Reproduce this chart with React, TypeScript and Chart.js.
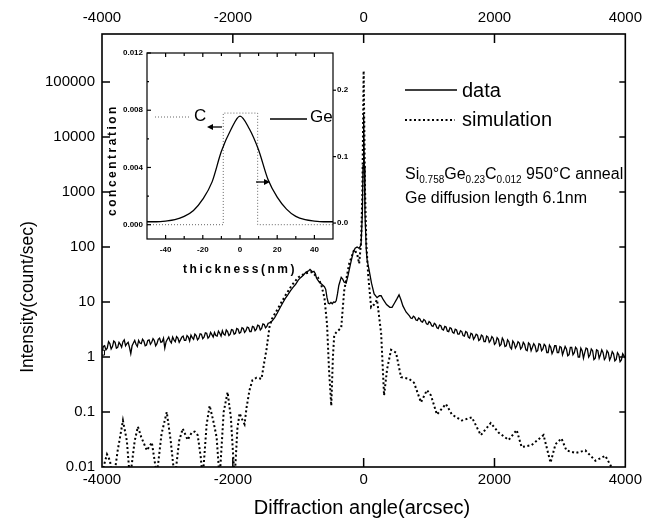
import React, { useEffect, useRef } from "react";
import { Chart, registerables } from "chart.js";
Chart.register(...registerables);

const FONT = "'Liberation Sans', Arial, Helvetica, sans-serif";

// ---------- main chart axes ----------
const xTickValues = [-4000, -2000, 0, 2000, 4000];
const xTickLabels = ["-4000", "-2000", "0", "2000", "4000"];
const yTickValues = [0.01, 0.1, 1, 10, 100, 1000, 10000, 100000];
const yTickLabels = ["0.01", "0.1", "1", "10", "100", "1000", "10000", "100000"];
const Y_MIN = 0.01;
const Y_MAX = 746000;

// ---------- measured data (solid): [angle, intensity] ----------
const dataLeft: [number, number][] = [
  [-4000, 1.2], [-3980, 1.55], [-3960, 1.6], [-3940, 1.35], [-3920, 1.45], [-3900, 1.9], [-3880, 1.75], [-3860, 1.4],
  [-3840, 1.55], [-3820, 1.95], [-3800, 1.85], [-3780, 1.45], [-3760, 1.5], [-3740, 1.85], [-3720, 1.7], [-3700, 1.5],
  [-3680, 1.9], [-3660, 2.05], [-3640, 1.6], [-3620, 1.75], [-3600, 1.85], [-3580, 1.5], [-3560, 1.15], [-3540, 1.6],
  [-3520, 1.8], [-3500, 2.0], [-3480, 1.7], [-3460, 1.55], [-3440, 2.0], [-3420, 1.8], [-3400, 1.75], [-3380, 2.1],
  [-3360, 1.95], [-3340, 1.6], [-3320, 1.65], [-3300, 2.0], [-3280, 2.05], [-3260, 1.7], [-3240, 1.85], [-3220, 2.15],
  [-3200, 2.0], [-3180, 1.6], [-3160, 1.75], [-3140, 2.1], [-3120, 2.2], [-3100, 1.85], [-3080, 1.9], [-3060, 2.2],
  [-3040, 1.45], [-3020, 1.9], [-3000, 2.1], [-2980, 2.3], [-2960, 1.95], [-2940, 1.8], [-2920, 2.3], [-2900, 2.05],
  [-2880, 1.9], [-2860, 2.35], [-2840, 2.2], [-2820, 1.85], [-2800, 2.05], [-2780, 2.3], [-2760, 2.4], [-2740, 2.0],
  [-2720, 2.0], [-2700, 2.45], [-2680, 2.3], [-2660, 1.95], [-2640, 2.5], [-2620, 2.25], [-2600, 2.1], [-2580, 2.6],
  [-2560, 2.45], [-2540, 2.05], [-2520, 2.2], [-2500, 2.65], [-2480, 2.6], [-2460, 2.15], [-2440, 2.3], [-2420, 2.75],
  [-2400, 2.7], [-2380, 2.2], [-2360, 2.35], [-2340, 2.8], [-2320, 2.55], [-2300, 2.3], [-2280, 2.8], [-2260, 2.45],
  [-2240, 2.4], [-2220, 2.95], [-2200, 2.7], [-2180, 2.4], [-2160, 3.0], [-2140, 2.6], [-2120, 2.5], [-2100, 3.1],
  [-2080, 2.9], [-2060, 2.45], [-2040, 2.6], [-2020, 3.15], [-2000, 3.1], [-1980, 2.6], [-1960, 2.7], [-1940, 3.3],
  [-1920, 3.2], [-1900, 2.7], [-1880, 2.8], [-1860, 3.4], [-1840, 3.3], [-1820, 2.8], [-1800, 3.0], [-1780, 3.5],
  [-1760, 3.4], [-1740, 2.9], [-1720, 2.9], [-1700, 3.6], [-1680, 3.5], [-1660, 3.0], [-1640, 3.2], [-1620, 3.8],
  [-1600, 3.7], [-1580, 3.1], [-1560, 3.3], [-1540, 4.0], [-1520, 3.9], [-1500, 3.4], [-1480, 3.6], [-1460, 4.1],
  [-1440, 4.2],
];
const dataCore: [number, number][] = [
  [-1400, 4.5], [-1360, 5.2], [-1320, 6.3], [-1280, 7.8], [-1240, 9.5], [-1200, 11.5], [-1160, 13.5], [-1120, 16],
  [-1080, 18.5], [-1040, 21], [-1000, 25], [-960, 28], [-920, 31], [-880, 35], [-840, 37], [-820, 39],
  [-800, 37], [-780, 35], [-760, 36], [-740, 33], [-720, 27], [-700, 25], [-680, 23], [-660, 22],
  [-640, 21], [-620, 20], [-600, 19], [-580, 17], [-560, 12], [-540, 9.5], [-520, 9.3], [-500, 9.8],
  [-480, 9.3], [-460, 10], [-440, 9.8], [-420, 10.5], [-400, 14], [-380, 20], [-343, 28], [-320, 26],
  [-300, 23], [-267, 22], [-240, 30], [-200, 50], [-160, 80], [-130, 95], [-100, 100], [-70, 95],
  [-40, 110], [-20, 400], [-10, 3000], [0, 25000], [10, 3000], [20, 400], [40, 90], [53, 58],
  [80, 40], [120, 22], [160, 14], [205, 12], [240, 13], [267, 13], [300, 11], [350, 9],
  [400, 8], [434, 8], [470, 9.5], [510, 11.5], [541, 13.5], [570, 11], [600, 8.5], [648, 6.6],
];
const dataRight: [number, number][] = [
  [700, 5.6], [720, 5.1], [740, 5.0], [760, 5.5], [780, 5.3], [800, 4.7], [820, 4.6], [840, 5.1],
  [860, 4.9], [880, 4.4], [900, 4.3], [920, 4.8], [940, 4.6], [960, 4.0], [980, 3.9], [1000, 4.4],
  [1020, 4.2], [1040, 3.7], [1060, 3.6], [1080, 4.1], [1100, 3.9], [1120, 3.4], [1140, 3.3], [1160, 3.8],
  [1180, 3.7], [1200, 3.2], [1220, 3.1], [1240, 3.6], [1260, 3.5], [1280, 2.95], [1300, 2.9], [1320, 3.4],
  [1340, 3.3], [1360, 2.8], [1380, 2.7], [1400, 3.2], [1420, 3.1], [1440, 2.6], [1460, 2.6], [1480, 3.0],
  [1500, 2.9], [1520, 2.45], [1540, 2.4], [1560, 2.9], [1580, 2.8], [1600, 2.3], [1620, 2.2], [1640, 2.7],
  [1660, 2.6], [1680, 2.1], [1700, 2.3], [1720, 2.6], [1740, 2.5], [1760, 2.0], [1780, 2.1], [1800, 2.5],
  [1820, 2.4], [1840, 1.9], [1860, 1.9], [1880, 2.4], [1900, 2.3], [1920, 1.85], [1940, 2.0], [1960, 2.35],
  [1980, 2.2], [2000, 1.7], [2020, 1.8], [2040, 2.25], [2060, 2.1], [2080, 1.6], [2100, 1.7], [2120, 2.2],
  [2140, 2.0], [2160, 1.55], [2180, 1.6], [2200, 2.05], [2220, 1.9], [2240, 1.5], [2260, 1.4], [2280, 1.95],
  [2300, 1.8], [2320, 1.45], [2340, 1.6], [2360, 1.9], [2380, 1.8], [2400, 1.4], [2420, 1.5], [2440, 1.85],
  [2460, 1.7], [2480, 1.35], [2500, 1.3], [2520, 1.8], [2540, 1.7], [2560, 1.3], [2580, 1.5], [2600, 1.75],
  [2620, 1.6], [2640, 1.25], [2660, 1.3], [2680, 1.75], [2700, 1.7], [2720, 1.3], [2740, 1.4], [2760, 1.7],
  [2780, 1.6], [2800, 1.2], [2820, 1.2], [2840, 1.65], [2860, 1.5], [2880, 1.15], [2900, 1.3], [2920, 1.6],
  [2940, 1.6], [2960, 1.2], [2980, 1.2], [3000, 1.55], [3020, 1.5], [3040, 1.1], [3060, 1.3], [3080, 1.55],
  [3100, 1.4], [3120, 1.05], [3140, 1.1], [3160, 1.5], [3180, 1.5], [3200, 1.1], [3220, 1.2], [3240, 1.5],
  [3260, 1.4], [3280, 1.0], [3300, 1.0], [3320, 1.45], [3340, 1.3], [3360, 0.95], [3380, 1.2], [3400, 1.45],
  [3420, 1.4], [3440, 1.0], [3460, 1.1], [3480, 1.4], [3500, 1.3], [3520, 0.9], [3540, 0.95], [3560, 1.35],
  [3580, 1.3], [3600, 0.95], [3620, 1.1], [3640, 1.35], [3660, 1.2], [3680, 0.9], [3700, 0.98], [3720, 1.3],
  [3740, 1.2], [3760, 0.88], [3780, 1.0], [3800, 1.25], [3820, 1.15], [3840, 0.85], [3860, 0.9], [3880, 1.2],
  [3900, 1.1], [3920, 0.82], [3940, 0.88], [3960, 1.15], [3980, 1.05], [4000, 0.95],
];

// ---------- simulation (dotted) ----------
const simX = [
  -4000, -3924, -3878, -3830, -3760, -3680, -3620, -3573, -3500, -3451,
  -3400, -3314, -3238, -3162, -3090, -3010, -2950, -2888, -2820, -2766,
  -2690, -2630, -2583, -2537, -2490, -2461, -2400, -2354, -2300, -2248,
  -2202, -2140, -2080, -2030, -1973, -1930, -1897, -1850, -1821, -1790,
  -1745, -1700, -1638, -1562, -1520, -1486, -1440, -1400, -1300, -1200,
  -1100, -1000, -900, -800, -700, -650, -600, -560, -530, -495,
  -470, -450, -419, -343, -298, -221, -145, -100, -69, -40,
  -20, 0, 20, 40, 70, 114, 160, 205, 267, 312,
  358, 419, 495, 571, 693, 770, 876, 968, 1029, 1120,
  1257, 1349, 1501, 1654, 1791, 1943, 2065, 2217, 2339, 2415,
  2567, 2750, 2857, 2933, 3024, 3100, 3238, 3390, 3543, 3695,
  3787, 3850,
];
const simY = [
  0.008, 0.017, 0.013, 0.005, 0.02, 0.07, 0.03, 0.006, 0.03, 0.054,
  0.035, 0.02, 0.028, 0.007, 0.04, 0.1, 0.03, 0.006, 0.03, 0.05,
  0.031, 0.042, 0.044, 0.038, 0.015, 0.006, 0.06, 0.13, 0.07, 0.035,
  0.006, 0.1, 0.23, 0.08, 0.006, 0.05, 0.095, 0.07, 0.06, 0.12,
  0.25, 0.38, 0.42, 0.4, 0.8, 1.35, 3.5, 5, 8, 13,
  20, 28, 33, 35, 28, 21, 12, 4, 0.6, 0.13,
  1.0, 2.5, 2.8, 3.4, 16, 50, 90, 75, 50, 120,
  900, 160000, 1200, 120, 30, 8, 9, 11, 2.7, 0.2,
  0.6, 1.35, 1.2, 0.43, 0.4, 0.34, 0.15, 0.25, 0.2, 0.09,
  0.14, 0.09, 0.07, 0.08, 0.038, 0.063, 0.042, 0.031, 0.047, 0.023,
  0.025, 0.038, 0.012, 0.026, 0.033, 0.02, 0.018, 0.02, 0.013, 0.016,
  0.01, 0.008,
];

// ---------- inset ----------
const thickX = [-50, -45, -40, -35, -30, -25, -20, -15, -10, -5, 0, 5, 10, 15, 20, 25, 30, 35, 40, 45, 50];
const geConc = [0.002, 0.002, 0.003, 0.005, 0.010, 0.019, 0.036, 0.062, 0.108, 0.140, 0.161, 0.142, 0.110, 0.066, 0.039, 0.021, 0.010, 0.005, 0.003, 0.002, 0.002];
const cX = [-50, -9, -9, 9.5, 9.5, 50];
const cConc = [0, 0, 0.0078, 0.0078, 0, 0];
const insetXTicks = [-40, -20, 0, 20, 40];
const insetXLabels = ["-40", "-20", "0", "20", "40"];
const insetXMinor = [-40, -30, -20, -10, 0, 10, 20, 30, 40];
const insetLeftTicks = [0, 0.004, 0.008, 0.012];
const insetLeftLabels = ["0.000", "0.004", "0.008", "0.012"];
const insetLeftMinor = [0, 0.002, 0.004, 0.006, 0.008, 0.01, 0.012];
const insetRightTicks = [0, 0.1, 0.2];
const insetRightLabels = ["0.0", "0.1", "0.2"];

const INSET_LEFT = 88;
const INSET_TOP = 44;

function seg(ctx: CanvasRenderingContext2D, x1: number, y1: number, x2: number, y2: number) {
  ctx.beginPath();
  ctx.moveTo(x1, y1);
  ctx.lineTo(x2, y2);
  ctx.stroke();
}
function arrow(ctx: CanvasRenderingContext2D, x1: number, y: number, x2: number) {
  const d = x2 > x1 ? 1 : -1;
  seg(ctx, x1, y, x2 - d * 3, y);
  ctx.beginPath();
  ctx.moveTo(x2, y);
  ctx.lineTo(x2 - d * 6, y - 3);
  ctx.lineTo(x2 - d * 6, y + 3);
  ctx.closePath();
  ctx.fill();
}

const mainDecor = {
  id: "mainDecor",
  afterDraw(chart: any) {
    const ctx: CanvasRenderingContext2D = chart.ctx;
    const a = chart.chartArea;
    const xs = chart.scales.x;
    const ys = chart.scales.y;
    ctx.save();
    ctx.strokeStyle = "#000";
    ctx.fillStyle = "#000";
    ctx.lineWidth = 1.6;
    ctx.strokeRect(a.left, a.top, a.right - a.left, a.bottom - a.top);
    ctx.lineWidth = 1.5;
    xTickValues.forEach((v) => {
      const px = xs.getPixelForValue(v);
      if (px > a.left + 1 && px < a.right - 1) {
        seg(ctx, px, a.bottom, px, a.bottom - 9);
        seg(ctx, px, a.top, px, a.top + 9);
      }
    });
    yTickValues.forEach((v) => {
      const py = ys.getPixelForValue(v);
      if (py > a.top + 1 && py < a.bottom - 1) {
        seg(ctx, a.left, py, a.left + 8, py);
        seg(ctx, a.right, py, a.right - 6, py);
      }
    });
    // axis titles
    ctx.textAlign = "center";
    ctx.textBaseline = "middle";
    ctx.font = `20px ${FONT}`;
    ctx.fillText("Diffraction angle(arcsec)", 362, 508);
    ctx.save();
    ctx.translate(28, 297);
    ctx.rotate(-Math.PI / 2);
    ctx.font = `17.5px ${FONT}`;
    ctx.fillText("Intensity(count/sec)", 0, 0);
    ctx.restore();
    // legend
    ctx.lineWidth = 1.3;
    seg(ctx, 405, 90, 457, 90);
    ctx.setLineDash([2, 2.5]);
    ctx.lineWidth = 2;
    seg(ctx, 405, 120, 455, 120);
    ctx.setLineDash([]);
    ctx.font = `20px ${FONT}`;
    ctx.textAlign = "left";
    ctx.fillText("data", 462, 91);
    ctx.fillText("simulation", 462, 120);
    // composition text with subscripts
    ctx.textBaseline = "alphabetic";
    const parts: { t: string; sub?: boolean }[] = [
      { t: "Si" }, { t: "0.758", sub: true }, { t: "Ge" }, { t: "0.23", sub: true },
      { t: "C" }, { t: "0.012", sub: true }, { t: " 950°C anneal" },
    ];
    let x = 405;
    const base = 179;
    parts.forEach((p) => {
      ctx.font = p.sub ? `10px ${FONT}` : `16px ${FONT}`;
      ctx.fillText(p.t, x, p.sub ? base + 4 : base);
      x += ctx.measureText(p.t).width;
    });
    ctx.font = `16px ${FONT}`;
    ctx.fillText("Ge diffusion length 6.1nm", 405, 203);
    ctx.restore();
  },
};

const insetDecor = {
  id: "insetDecor",
  afterDraw(chart: any) {
    const ctx: CanvasRenderingContext2D = chart.ctx;
    const a = chart.chartArea;
    const xs = chart.scales.x;
    const yl = chart.scales.y;
    const yr = chart.scales.y2;
    ctx.save();
    ctx.strokeStyle = "#000";
    ctx.fillStyle = "#000";
    ctx.lineWidth = 1.2;
    ctx.strokeRect(a.left, a.top, a.right - a.left, a.bottom - a.top);
    insetXMinor.forEach((v) => {
      const px = xs.getPixelForValue(v);
      const major = v % 20 === 0;
      seg(ctx, px, a.bottom, px, a.bottom - (major ? 4 : 3));
      seg(ctx, px, a.top, px, a.top + (major ? 4 : 3));
    });
    insetLeftMinor.forEach((v, i) => {
      const py = yl.getPixelForValue(v);
      seg(ctx, a.left, py, a.left + (i % 2 === 0 ? 4 : 2), py);
    });
    insetRightTicks.forEach((v) => {
      const py = yr.getPixelForValue(v);
      seg(ctx, a.right, py, a.right + 3, py);
    });
    const ox = INSET_LEFT;
    const oy = INSET_TOP;
    // axis titles (letter spaced)
    ctx.font = `bold 12px ${FONT}`;
    ctx.textAlign = "center";
    ctx.textBaseline = "middle";
    (ctx as any).letterSpacing = "2.5px";
    ctx.save();
    ctx.translate(113 - ox, 160 - oy);
    ctx.rotate(-Math.PI / 2);
    ctx.fillText("concentration", 0, 0);
    ctx.restore();
    ctx.fillText("thickness(nm)", 240 - ox, 270 - oy);
    (ctx as any).letterSpacing = "0px";
    // C label
    ctx.strokeStyle = "#666";
    ctx.lineWidth = 1;
    ctx.setLineDash([1, 2]);
    seg(ctx, 155 - ox, 117 - oy, 190 - ox, 117 - oy);
    ctx.setLineDash([]);
    ctx.strokeStyle = "#000";
    ctx.font = `17px ${FONT}`;
    ctx.textAlign = "left";
    ctx.fillText("C", 194 - ox, 116 - oy);
    ctx.lineWidth = 1.3;
    arrow(ctx, 222 - ox, 127 - oy, 207 - ox);
    // Ge label
    seg(ctx, 270 - ox, 119 - oy, 307 - ox, 119 - oy);
    ctx.fillText("Ge", 310 - ox, 117 - oy);
    arrow(ctx, 256 - ox, 182 - oy, 270 - ox);
    ctx.restore();
  },
};

export default function App() {
  const mainRef = useRef<HTMLCanvasElement | null>(null);
  const insetRef = useRef<HTMLCanvasElement | null>(null);

  useEffect(() => {
    if (!mainRef.current || !insetRef.current) return;
    const tickFont = { family: FONT, size: 15 };
    const dataPoints = [...dataLeft, ...dataCore, ...dataRight].map(([x, y]) => ({ x, y }));
    const main = new Chart(mainRef.current, {
      type: "line",
      data: {
        datasets: [
          {
            label: "data",
            data: dataPoints,
            borderColor: "#000",
            borderWidth: 1.3,
            pointRadius: (c: any) => (c.dataIndex === 0 ? 3.5 : 0),
            pointStyle: "rect",
            pointBackgroundColor: "#fff",
            pointBorderColor: "#000",
            pointBorderWidth: 1,
            tension: 0,
          },
          {
            label: "simulation",
            data: simX.map((x, i) => ({ x, y: simY[i] })),
            borderColor: "#000",
            borderWidth: 2,
            borderDash: [2, 2.5],
            pointRadius: 0,
            tension: 0,
          },
        ],
      },
      options: {
        animation: false,
        responsive: false,
        maintainAspectRatio: false,
        events: [],
        layout: { padding: { left: 0, right: 22, top: 0, bottom: 0 } },
        plugins: { legend: { display: false }, tooltip: { enabled: false } },
        scales: {
          x: {
            type: "linear",
            position: "bottom",
            min: -4000,
            max: 4000,
            afterBuildTicks: (s: any) => { s.ticks = xTickValues.map((v) => ({ value: v })); },
            ticks: { callback: (_v: any, i: number) => xTickLabels[i], font: tickFont, color: "#000", padding: 4, maxRotation: 0, autoSkip: false },
            grid: { display: false, drawTicks: false },
            border: { display: false },
            afterFit: (s: any) => { s.height = 64; },
          },
          xTop: {
            type: "linear",
            position: "top",
            min: -4000,
            max: 4000,
            afterBuildTicks: (s: any) => { s.ticks = xTickValues.map((v) => ({ value: v })); },
            ticks: { callback: (_v: any, i: number) => xTickLabels[i], font: tickFont, color: "#000", padding: 7, maxRotation: 0, autoSkip: false },
            grid: { display: false, drawTicks: false },
            border: { display: false },
            afterFit: (s: any) => { s.height = 34; },
          },
          y: {
            type: "logarithmic",
            position: "left",
            min: Y_MIN,
            max: Y_MAX,
            afterBuildTicks: (s: any) => { s.ticks = yTickValues.map((v) => ({ value: v })); },
            ticks: { callback: (_v: any, i: number) => yTickLabels[i], font: tickFont, color: "#000", padding: 7, autoSkip: false },
            grid: { display: false, drawTicks: false },
            border: { display: false },
            afterFit: (s: any) => { s.width = 102; },
          },
        },
      } as any,
      plugins: [mainDecor],
    });

    const insetFont = { family: FONT, size: 8, weight: "bold" as const };
    const inset = new Chart(insetRef.current, {
      type: "line",
      data: {
        datasets: [
          {
            label: "Ge",
            data: thickX.map((x, i) => ({ x, y: geConc[i] })),
            yAxisID: "y2",
            borderColor: "#000",
            borderWidth: 1.3,
            pointRadius: 0,
            cubicInterpolationMode: "monotone",
          },
          {
            label: "C",
            data: cX.map((x, i) => ({ x, y: cConc[i] })),
            yAxisID: "y",
            borderColor: "#666",
            borderWidth: 1,
            borderDash: [1, 2],
            pointRadius: 0,
            tension: 0,
          },
        ],
      },
      options: {
        animation: false,
        responsive: false,
        maintainAspectRatio: false,
        events: [],
        layout: { padding: { left: 0, right: 0, top: 9, bottom: 0 } },
        plugins: { legend: { display: false }, tooltip: { enabled: false } },
        scales: {
          x: {
            type: "linear",
            min: -50,
            max: 50,
            afterBuildTicks: (s: any) => { s.ticks = insetXTicks.map((v) => ({ value: v })); },
            ticks: { callback: (_v: any, i: number) => insetXLabels[i], font: insetFont, color: "#000", padding: 6, maxRotation: 0, autoSkip: false },
            grid: { display: false, drawTicks: false },
            border: { display: false },
            afterFit: (s: any) => { s.height = 45; },
          },
          y: {
            type: "linear",
            position: "left",
            min: -0.001,
            max: 0.012,
            afterBuildTicks: (s: any) => { s.ticks = insetLeftTicks.map((v) => ({ value: v })); },
            ticks: { callback: (_v: any, i: number) => insetLeftLabels[i], font: insetFont, color: "#000", padding: 4, autoSkip: false },
            grid: { display: false, drawTicks: false },
            border: { display: false },
            afterFit: (s: any) => { s.width = 59; },
          },
          y2: {
            type: "linear",
            position: "right",
            min: -0.024,
            max: 0.256,
            afterBuildTicks: (s: any) => { s.ticks = insetRightTicks.map((v) => ({ value: v })); },
            ticks: { callback: (_v: any, i: number) => insetRightLabels[i], font: insetFont, color: "#000", padding: 4, autoSkip: false },
            grid: { display: false, drawTicks: false },
            border: { display: false },
            afterFit: (s: any) => { s.width = 27; },
          },
        },
      } as any,
      plugins: [insetDecor],
    });

    return () => {
      main.destroy();
      inset.destroy();
    };
  }, []);

  return (
    <div style={{ position: "absolute", left: 0, top: 0, width: 649, height: 531, background: "#fff", overflow: "hidden" }}>
      <canvas ref={mainRef} width={649} height={531} style={{ position: "absolute", left: 0, top: 0 }} />
      <canvas ref={insetRef} width={272} height={240} style={{ position: "absolute", left: INSET_LEFT, top: INSET_TOP }} />
    </div>
  );
}
